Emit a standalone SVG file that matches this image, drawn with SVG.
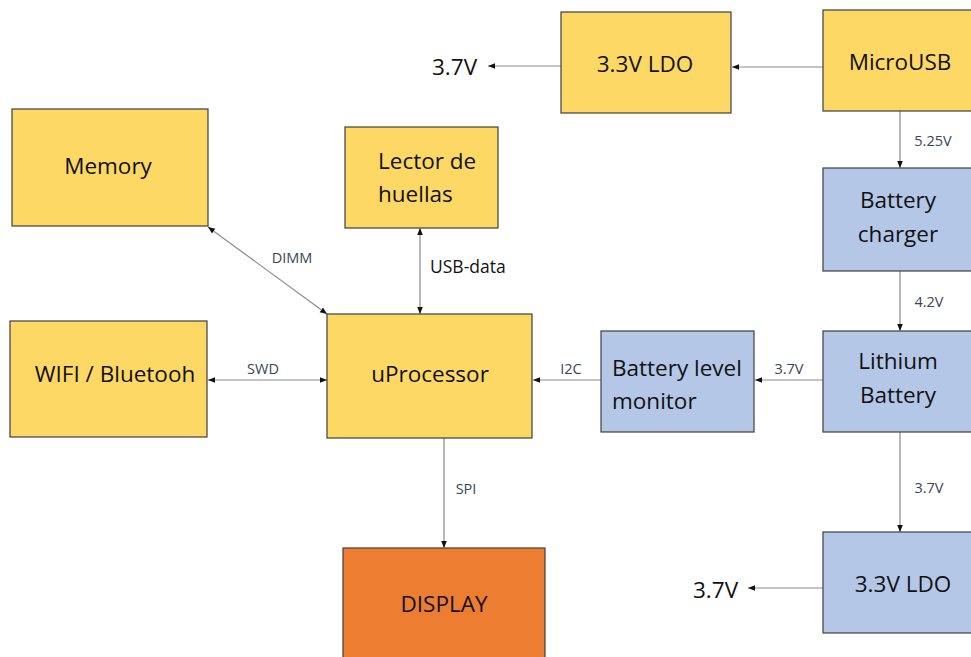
<svg xmlns="http://www.w3.org/2000/svg" width="971" height="657" viewBox="0 0 971 657">
<style>
.y{fill:#FDD865;stroke:#3F3F3F;stroke-width:1.2}
.b{fill:#B4C7E7;stroke:#3F3F3F;stroke-width:1.2}
.o{fill:#ED7D31;stroke:#3F3F3F;stroke-width:1.2}
.t{font-family:"Open Sans","Noto Sans",sans-serif;font-size:22.5px;fill:#111}
.c{text-anchor:middle}
.l{font-family:"Open Sans","Noto Sans",sans-serif;font-size:14.5px;fill:#3A4456;text-anchor:middle}
.k{stroke:#8A8A8A;stroke-width:1.2;fill:none}
</style>
<defs>
<marker id="ah" viewBox="0 0 10 10" refX="10" refY="5" markerWidth="7" markerHeight="7" orient="auto-start-reverse" markerUnits="userSpaceOnUse">
<path d="M0,1 L10,5 L0,9 z" fill="#111"/>
</marker>
</defs>
<rect width="971" height="657" fill="#fff"/>
<g id="connectors">
<line class="k" x1="561" y1="66" x2="488" y2="66" marker-end="url(#ah)"/>
<line class="k" x1="823" y1="67" x2="732" y2="67" marker-end="url(#ah)"/>
<line class="k" x1="900" y1="111" x2="900" y2="168" marker-end="url(#ah)"/>
<text class="l" x="933" y="146">5.25V</text>
<line class="k" x1="900" y1="271" x2="900" y2="331" marker-end="url(#ah)"/>
<text class="l" x="929" y="307">4.2V</text>
<line class="k" x1="823" y1="380" x2="755" y2="380" marker-end="url(#ah)"/>
<text class="l" x="789" y="374">3.7V</text>
<line class="k" x1="900" y1="432" x2="900" y2="532" marker-end="url(#ah)"/>
<text class="l" x="929" y="493">3.7V</text>
<line class="k" x1="823" y1="588" x2="748" y2="588" marker-end="url(#ah)"/>
<line class="k" x1="601" y1="380" x2="533" y2="380" marker-end="url(#ah)"/>
<text class="l" x="571" y="374">I2C</text>
<line class="k" x1="208" y1="380" x2="327" y2="380" marker-start="url(#ah)" marker-end="url(#ah)"/>
<text class="l" x="263" y="374">SWD</text>
<line class="k" x1="208" y1="227" x2="327" y2="314" marker-start="url(#ah)" marker-end="url(#ah)"/>
<text class="l" x="292" y="263">DIMM</text>
<line class="k" x1="420" y1="228" x2="420" y2="314" marker-start="url(#ah)" marker-end="url(#ah)"/>
<text x="430" y="273" style="font-family:'Open Sans','Noto Sans',sans-serif;font-size:17.5px;fill:#111">USB-data</text>
<line class="k" x1="444" y1="438" x2="444" y2="548" marker-end="url(#ah)"/>
<text class="l" x="466" y="494">SPI</text>
</g>
<g id="out37top"><text class="t" x="432" y="75">3.7V</text></g>
<g id="ldo_top"><rect class="y" x="561" y="12" width="170" height="101"/><text class="t c" x="645" y="72">3.3V LDO</text></g>
<g id="microusb"><rect class="y" x="823" y="10" width="150" height="101"/><text class="t c" x="900" y="70">MicroUSB</text></g>
<g id="memory"><rect class="y" x="12" y="109" width="196" height="117"/><text class="t c" x="108" y="174">Memory</text></g>
<g id="lector"><rect class="y" x="345" y="127" width="153" height="101"/><text class="t" x="378" y="169">Lector de</text><text class="t" x="378" y="202">huellas</text></g>
<g id="wifi"><rect class="y" x="10" y="321" width="197" height="116"/><text class="t c" x="115" y="382">WIFI / Bluetooh</text></g>
<g id="uprocessor"><rect class="y" x="327" y="314" width="205" height="124"/><text class="t c" x="430" y="382">uProcessor</text></g>
<g id="display"><rect class="o" x="343" y="548" width="202" height="112"/><text class="t c" x="444" y="612">DISPLAY</text></g>
<g id="batmon"><rect class="b" x="601" y="331" width="153" height="101"/><text class="t" x="612" y="376">Battery level</text><text class="t" x="612" y="409">monitor</text></g>
<g id="charger"><rect class="b" x="823" y="168" width="150" height="103"/><text class="t c" x="898" y="208">Battery</text><text class="t c" x="898" y="242">charger</text></g>
<g id="lithium"><rect class="b" x="823" y="331" width="150" height="101"/><text class="t c" x="898" y="369">Lithium</text><text class="t c" x="898" y="403">Battery</text></g>
<g id="ldo_bot"><rect class="b" x="823" y="532" width="150" height="101"/><text class="t c" x="903" y="592">3.3V LDO</text></g>
<g id="out37bot"><text class="t" x="693" y="598">3.7V</text></g>
</svg>
